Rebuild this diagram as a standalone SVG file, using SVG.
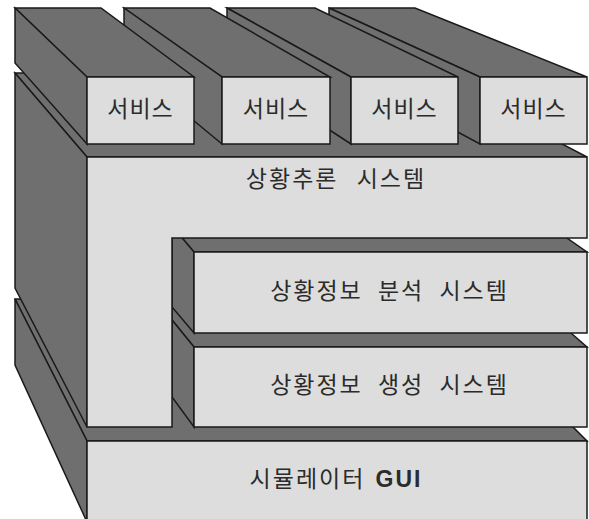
<svg xmlns="http://www.w3.org/2000/svg" width="589" height="519" viewBox="0 0 589 519">
<style>
.d{fill:#6f6f6f;stroke:#1a1a1a;stroke-width:1.5;stroke-linejoin:miter}
.l{fill:#dddddd;stroke:#1a1a1a;stroke-width:1.5}
.t{font-family:"Noto Sans CJK KR","Noto Sans",sans-serif;font-size:23px;fill:#2b2b2b;text-anchor:middle;letter-spacing:2px}
.s{letter-spacing:1px}
.b{font-family:"Liberation Sans",Arial,sans-serif;font-weight:bold}
</style>
<rect width="589" height="519" fill="#ffffff"/>
<g id="gui">
<polygon class="d" points="15,299 87,441 587,441 573,427 560,380 100,380 100,299"/>
<polygon class="d" points="15,299 87,441 87,522 15,365"/>
<polygon class="l" points="87,441 587,441 587,525 87,525"/>
<text class="t" x="336" y="487" word-spacing="3">시뮬레이터 <tspan class="b">GUI</tspan></text>
</g>
<g id="generation">
<polygon class="d" points="172,320 194,347 587,347 571,333 560,300 172,300"/>
<polygon class="d" points="172,320 194,347 194,427 172,397"/>
<polygon class="l" points="194,347 587,347 587,427 194,427"/>
<text class="t" x="389.5" y="393" word-spacing="8">상황정보 생성 시스템</text>
</g>
<g id="analysis">
<polygon class="d" points="172,226 194,252 587,252 567,238 560,220 172,220"/>
<polygon class="d" points="172,226 194,252 194,333 172,307"/>
<polygon class="l" points="194,252 587,252 587,333 194,333"/>
<text class="t" x="389.5" y="299" word-spacing="8">상황정보 분석 시스템</text>
</g>
<g id="reasoning">
<polygon class="d" points="15,73 87,157 587,157 562,144 540,90 400,73"/>
<polygon class="d" points="15,73 87,157 87,427 15,288"/>
<polygon class="l" points="87,157 587,157 587,238 172,238 172,427 87,427"/>
<text class="t" x="336" y="187" word-spacing="11">상황추론 시스템</text>
</g>
<g id="service4">
<polygon class="d" points="329,8 415,8 587,77 480,77"/>
<polygon class="d" points="329,8 480,77 480,144 329,63"/>
<rect class="l" x="480" y="77" width="107" height="67"/>
<text class="t s" x="533.5" y="117">서비스</text>
</g>
<g id="service3">
<polygon class="d" points="227,8 315,8 458,77 351,77"/>
<polygon class="d" points="227,8 351,77 351,144 227,63"/>
<rect class="l" x="351" y="77" width="107" height="67"/>
<text class="t s" x="404.5" y="117">서비스</text>
</g>
<g id="service2">
<polygon class="d" points="124,8 210,8 330,77 222,77"/>
<polygon class="d" points="124,8 222,77 222,144 124,63"/>
<rect class="l" x="222" y="77" width="108" height="67"/>
<text class="t s" x="276" y="117">서비스</text>
</g>
<g id="service1">
<polygon class="d" points="15,8 101,8 194,77 87,77"/>
<polygon class="d" points="15,8 87,77 87,144 15,63"/>
<rect class="l" x="87" y="77" width="107" height="67"/>
<text class="t s" x="140.5" y="117">서비스</text>
</g>
</svg>
